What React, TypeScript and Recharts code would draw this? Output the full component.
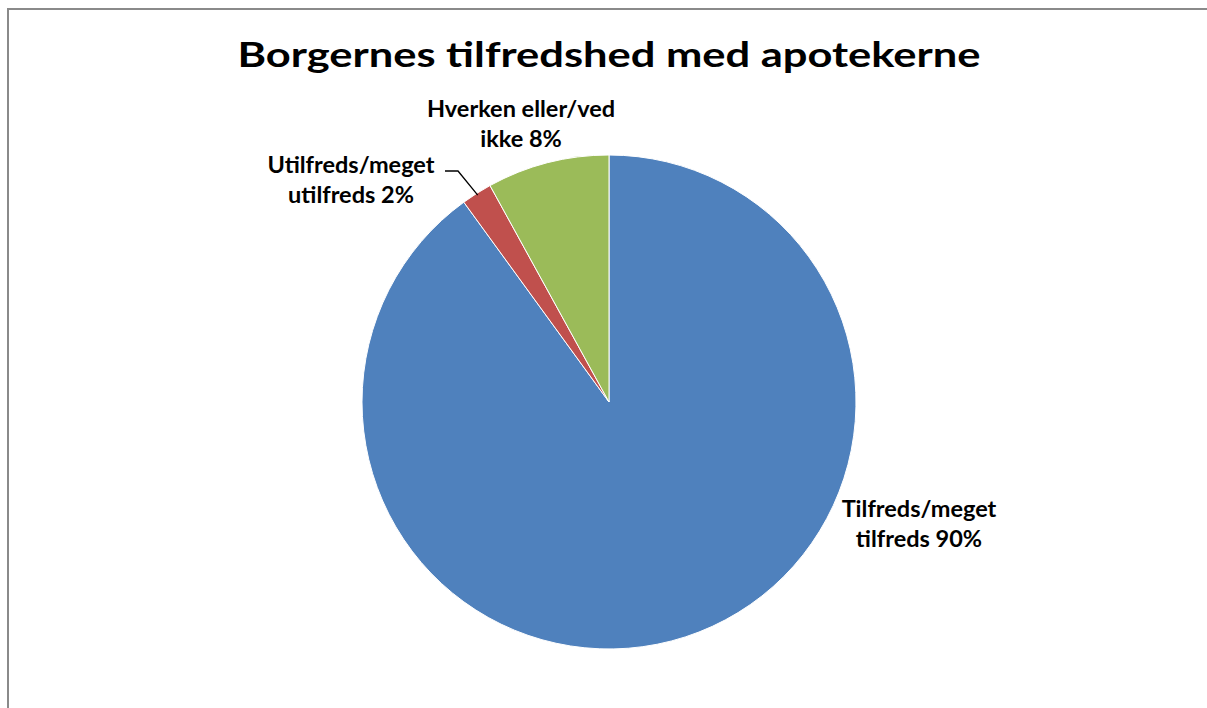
import { PieChart, Pie, Cell } from "recharts";

const categories = ["Tilfreds/meget tilfreds", "Utilfreds/meget utilfreds", "Hverken eller/ved ikke"];
const values = [90, 2, 8];
const labelLines = [
  ["Tilfreds/meget", "tilfreds"],
  ["Utilfreds/meget", "utilfreds"],
  ["Hverken eller/ved", "ikke"],
];
const colors = ["#4F81BD", "#C0504D", "#9BBB59"];

const data = categories.map((name, i) => ({ name, value: values[i] }));

// label anchor offsets from pie centre (Excel "best fit" placement)
const labelOffsets = [
  { dx: 310, dy: 115 },
  { dx: -258, dy: -229 },
  { dx: -88, dy: -285 },
];

const FONT = "Lato, 'Open Sans', sans-serif";

const renderLabel = (props: any) => {
  const { cx, cy, index, percent } = props;
  const off = labelOffsets[index];
  const x = cx + off.dx;
  const y = cy + off.dy;
  const lines = labelLines[index];
  return (
    <text
      x={x}
      y={y}
      textAnchor="middle"
      fill="#000"
      fontFamily={FONT}
      fontWeight={700}
      fontSize={23.5}
    >
      <tspan x={x} dy={0}>{lines[0]}</tspan>
      <tspan x={x} dy={29.5}>{`${lines[1]} ${Math.round(percent * 100)}%`}</tspan>
    </text>
  );
};

const renderLabelLine = (props: any) => {
  const { cx, cy, index, midAngle, outerRadius } = props;
  if (index !== 1) return <g />;
  const rad = (Math.PI / 180) * midAngle;
  const ex = cx + Math.cos(rad) * (outerRadius - 2);
  const ey = cy - Math.sin(rad) * (outerRadius - 2);
  const off = labelOffsets[index];
  const sx = cx + off.dx + 94;
  const sy = cy + off.dy - 2;
  return (
    <polyline
      points={`${sx},${sy} ${sx + 13},${sy} ${ex},${ey}`}
      fill="none"
      stroke="#000"
      strokeWidth={1.3}
    />
  );
};

export default function App() {
  return (
    <div
      style={{
        position: "absolute",
        left: 0,
        top: 0,
        width: 1207,
        height: 708,
        overflow: "hidden",
        background: "#fff",
      }}
    >
      <div
        style={{
          position: "absolute",
          left: 7,
          top: 8,
          width: 1300,
          height: 800,
          border: "2px solid #8a8a8a",
        }}
      />
      <svg
        width={1207}
        height={708}
        style={{ position: "absolute", left: 0, top: 0 }}
      >
        <text
          x={609}
          y={67}
          textAnchor="middle"
          fontFamily={FONT}
          fontWeight={700}
          fontSize={34}
          textLength={743}
          lengthAdjust="spacingAndGlyphs"
          fill="#000"
        >
          Borgernes tilfredshed med apotekerne
        </text>
      </svg>
      <div style={{ position: "absolute", left: 0, top: 0 }}>
        <PieChart width={1207} height={708}>
          <Pie
            data={data}
            dataKey="value"
            nameKey="name"
            cx={604}
            cy={397}
            outerRadius={247}
            startAngle={90}
            endAngle={-270}
            stroke="#fff"
            strokeWidth={1}
            label={renderLabel}
            labelLine={renderLabelLine}
            isAnimationActive={false}
          >
            {data.map((entry, i) => (
              <Cell key={entry.name} fill={colors[i]} />
            ))}
          </Pie>
        </PieChart>
      </div>
    </div>
  );
}
